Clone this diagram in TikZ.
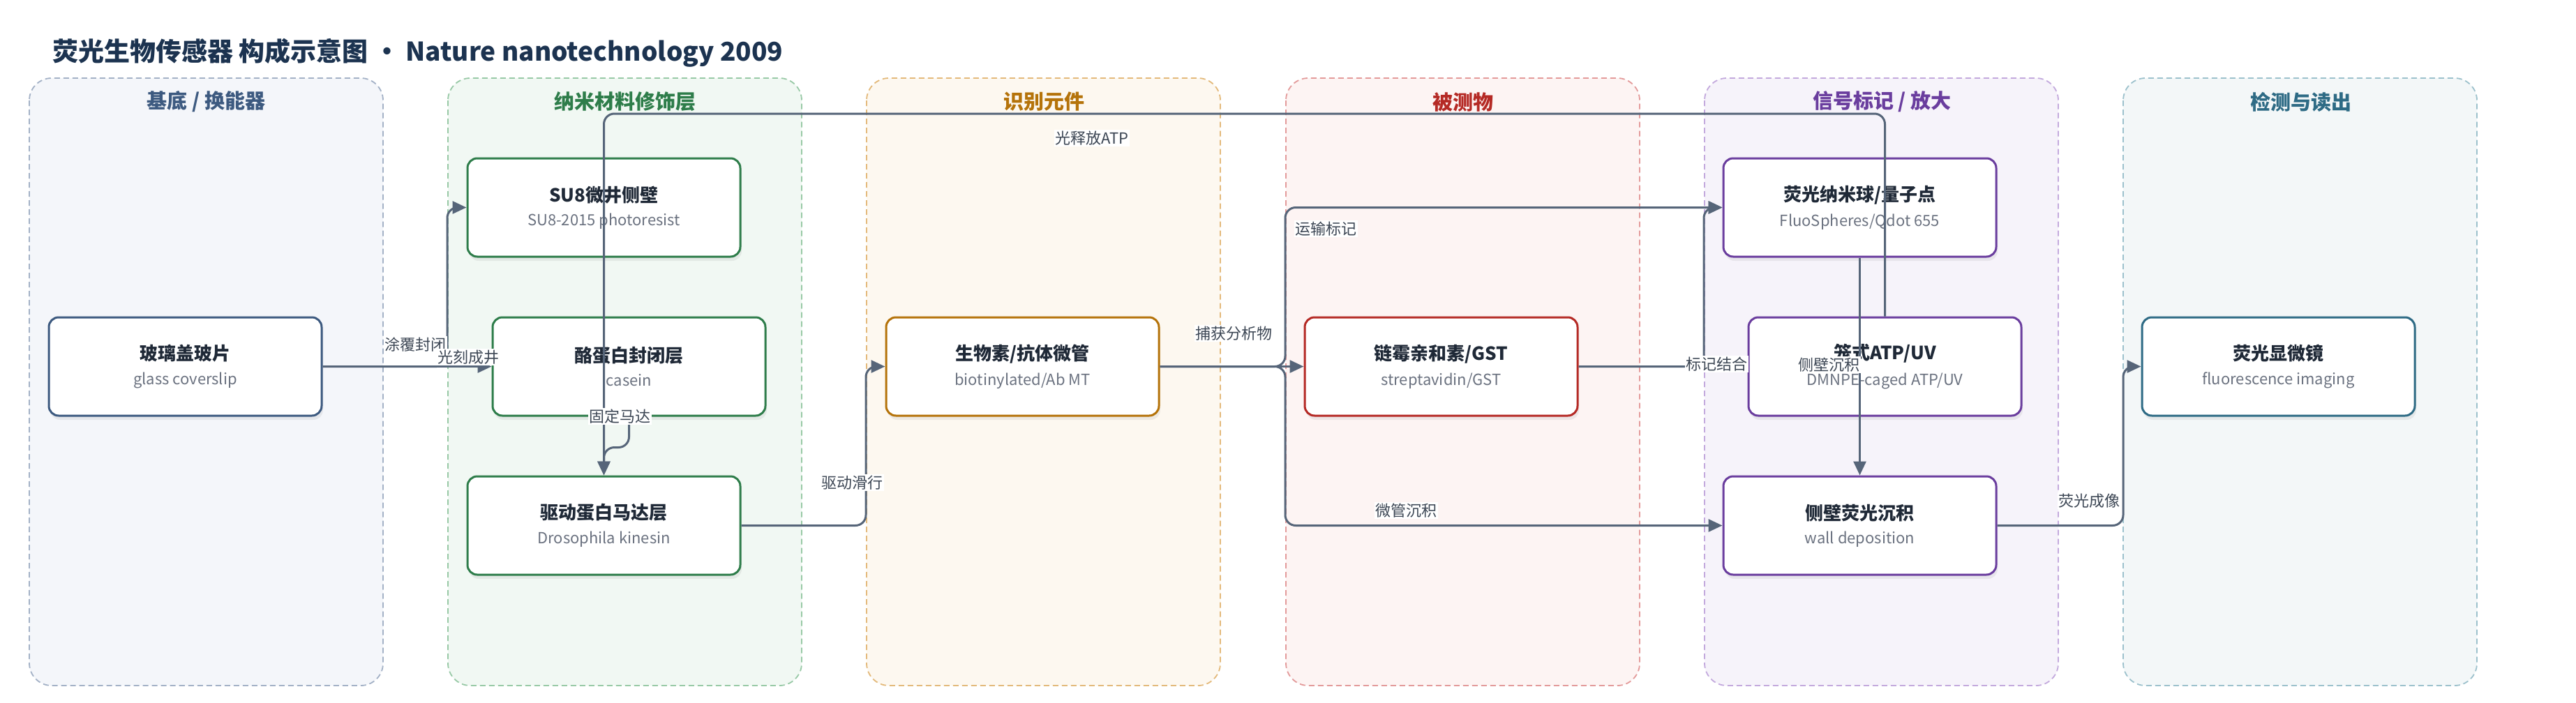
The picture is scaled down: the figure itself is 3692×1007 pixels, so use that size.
\documentclass[tikz,border=0pt]{standalone}
\usepackage{fontspec}
\setmainfont{Noto Sans CJK SC}
\usetikzlibrary{arrows.meta,shadows}

\definecolor{titleink}{HTML}{1C3350}
\definecolor{edgeink}{HTML}{566579}
\definecolor{tagink}{HTML}{3C4654}
\definecolor{boxink}{HTML}{1F2937}
\definecolor{subink}{HTML}{6B7280}
\definecolor{laneAfill}{HTML}{F4F6FA}
\definecolor{laneAline}{HTML}{A3B1C6}
\definecolor{laneAink}{HTML}{3D5A80}
\definecolor{laneBfill}{HTML}{F1F8F3}
\definecolor{laneBline}{HTML}{98C9A6}
\definecolor{laneBink}{HTML}{2E7D4A}
\definecolor{laneCfill}{HTML}{FDF8F0}
\definecolor{laneCline}{HTML}{E3B97A}
\definecolor{laneCink}{HTML}{B5730A}
\definecolor{laneDfill}{HTML}{FDF4F3}
\definecolor{laneDline}{HTML}{E39A9A}
\definecolor{laneDink}{HTML}{B52A25}
\definecolor{laneEfill}{HTML}{F6F3FA}
\definecolor{laneEline}{HTML}{C3A9DD}
\definecolor{laneEink}{HTML}{6A3D9E}
\definecolor{laneFfill}{HTML}{F3F7F8}
\definecolor{laneFline}{HTML}{9CC1CC}
\definecolor{laneFink}{HTML}{2E6B85}

\newcommand{\boxlabel}[2]{\fontsize{26}{30}\selectfont\bfseries\color{boxink}#1\\[13pt]\fontsize{22}{26}\selectfont\mdseries\color{subink}#2}

\begin{document}
\begin{tikzpicture}[x=1pt,y=-1pt]
\tikzstyle{every node}+=[inner sep=0pt]
\tikzstyle{lane}=[rounded corners=32pt, dash pattern=on 8pt off 5pt, line width=1.8pt]
\tikzstyle{lanetitle}=[font=\fontsize{29}{34}\selectfont\bfseries]
\tikzstyle{box}=[rectangle, rounded corners=14pt, minimum width=391pt, minimum height=141pt, line width=3pt, fill=white, align=center, drop shadow={opacity=0.12, shadow xshift=2pt, shadow yshift=-6pt}]
\tikzstyle{flow}=[draw=edgeink, line width=3pt, rounded corners=15pt, -{Triangle[length=20pt,width=18pt]}]
\tikzstyle{tag}=[fill=white, inner sep=1.5pt, text=tagink, font=\fontsize{22}{26}\selectfont]

\useasboundingbox (0,0) rectangle (3692,1007);
\fill[white] (0,0) rectangle (3692,1007);

\node[anchor=west, text=titleink, font=\fontsize{37}{44}\selectfont\bfseries] (title) at (75,76) {荧光生物传感器 构成示意图 · Nature nanotechnology 2009};

\draw[lane, draw=laneAline, fill=laneAfill] (42,112) rectangle (549,983);
\node[lanetitle, text=laneAink] (laneA) at (295.5,146) {基底 / 换能器};
\draw[lane, draw=laneBline, fill=laneBfill] (642,112) rectangle (1149,983);
\node[lanetitle, text=laneBink] (laneB) at (896,146) {纳米材料修饰层};
\draw[lane, draw=laneCline, fill=laneCfill] (1242,112) rectangle (1749,983);
\node[lanetitle, text=laneCink] (laneC) at (1496.5,146) {识别元件};
\draw[lane, draw=laneDline, fill=laneDfill] (1843,112) rectangle (2350,983);
\node[lanetitle, text=laneDink] (laneD) at (2097,146) {被测物};
\draw[lane, draw=laneEline, fill=laneEfill] (2443,112) rectangle (2950,983);
\node[lanetitle, text=laneEink] (laneE) at (2697.5,146) {信号标记 / 放大};
\draw[lane, draw=laneFline, fill=laneFfill] (3043,112) rectangle (3550,983);
\node[lanetitle, text=laneFink] (laneF) at (3298,146) {检测与读出};

\node[box, draw=laneAink] (glass) at (265.5,525.5) {\boxlabel{玻璃盖玻片}{glass coverslip}};
\node[box, draw=laneBink] (su8) at (865.5,297.5) {\boxlabel{SU8微井侧壁}{SU8-2015 photoresist}};
\node[box, draw=laneBink] (casein) at (901.5,525.5) {\boxlabel{酪蛋白封闭层}{casein}};
\node[box, draw=laneBink] (kinesin) at (865.5,753.5) {\boxlabel{驱动蛋白马达层}{Drosophila kinesin}};
\node[box, draw=laneCink] (mt) at (1465.5,525.5) {\boxlabel{生物素/抗体微管}{biotinylated/Ab MT}};
\node[box, draw=laneDink] (strep) at (2065.5,525.5) {\boxlabel{链霉亲和素/GST}{streptavidin/GST}};
\node[box, draw=laneEink] (fluo) at (2665.5,297.5) {\boxlabel{荧光纳米球/量子点}{FluoSpheres/Qdot 655}};
\node[box, draw=laneEink] (caged) at (2701.5,525.5) {\boxlabel{笼式ATP/UV}{DMNPE-caged ATP/UV}};
\node[box, draw=laneEink] (wall) at (2665.5,753.5) {\boxlabel{侧壁荧光沉积}{wall deposition}};
\node[box, draw=laneFink] (scope) at (3265.5,525.5) {\boxlabel{荧光显微镜}{fluorescence imaging}};

\coordinate (bendA) at (641,0);
\coordinate (bendB) at (1241,0);
\coordinate (bendC) at (1842,0);
\coordinate (bendD) at (2442,0);
\coordinate (bendE) at (3043,0);
\coordinate (topline) at (0,163);

\draw[flow] (glass.east) -- (glass.east -| bendA) |- (su8.west);
\draw[flow] (glass.east) -- (casein.west);
\draw[flow] (casein.south) -- ++(0,44) -| (kinesin.north);
\draw[flow] (kinesin.east) -- (kinesin.east -| bendB) |- (mt.west);
\draw[flow] (mt.east) -- (strep.west);
\draw[flow] (mt.east) -- (mt.east -| bendC) |- (fluo.west);
\draw[flow] (mt.east) -- (mt.east -| bendC) |- (wall.west);
\draw[flow] (strep.east) -- (strep.east -| bendD) |- (fluo.west);
\draw[flow] (fluo.south) -- (wall.north);
\draw[flow] (caged.north) -- (caged.north |- topline) -| (kinesin.north);
\draw[flow] (wall.east) -- (wall.east -| bendE) |- (scope.west);

\node[tag] (lblcoat) at (595,494) {涂覆封闭};
\node[tag] (lbllitho) at (671,512) {光刻成井};
\node[tag] (lblfix) at (888,597) {固定马达};
\node[tag] (lbldrive) at (1221,692) {驱动滑行};
\node[tag] (lblcapture) at (1768,478) {捕获分析物};
\node[tag] (lbltransport) at (1900,328) {运输标记};
\node[tag] (lbldeposit) at (2015,732) {微管沉积};
\node[tag] (lblbind) at (2460,522) {标记结合};
\node[tag] (lblwall) at (2621,523) {侧壁沉积};
\node[tag] (lblrelease) at (1565,198) {光释放ATP};
\node[tag] (lblimage) at (2994,718) {荧光成像};
\end{tikzpicture}
\end{document}
